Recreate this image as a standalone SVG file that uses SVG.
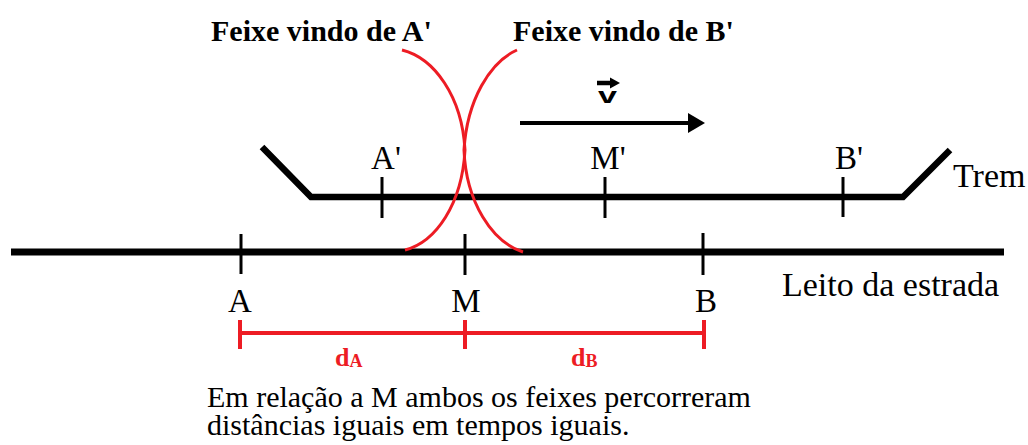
<svg xmlns="http://www.w3.org/2000/svg" width="1028" height="445" viewBox="0 0 1028 445">
<defs>
<style>
.serif{font-family:"Liberation Serif","Times New Roman",serif;fill:#000}
.lbl{font-size:33px;text-anchor:middle}
.big{font-size:34px}
.title{font-size:30px;font-weight:bold}
.red{fill:#ed1c24;font-family:"Liberation Serif","Times New Roman",serif;font-weight:bold}
.blk{stroke:#000;fill:none}
.rline{stroke:#ed1c24;fill:none}
</style>
</defs>
<rect width="1028" height="445" fill="#fff"/>

<g id="road">
<line class="blk" x1="11" y1="252" x2="1004" y2="252" stroke-width="7"/>
<line class="blk" x1="241" y1="234" x2="241" y2="274" stroke-width="3"/>
<line class="blk" x1="465" y1="234" x2="465" y2="275" stroke-width="3"/>
<line class="blk" x1="703" y1="233" x2="703" y2="275" stroke-width="3"/>
<text class="serif big" x="782" y="296">Leito da estrada</text>
</g>

<g id="train">
<polyline class="blk" points="262,147 311,197 903,197 950,150" stroke-width="6.5" stroke-linejoin="miter"/>
<line class="blk" x1="382" y1="177" x2="382" y2="218" stroke-width="3"/>
<line class="blk" x1="605" y1="177" x2="605" y2="218" stroke-width="3"/>
<line class="blk" x1="843" y1="177" x2="843" y2="217" stroke-width="3"/>
<text class="serif big" x="953" y="187">Trem</text>
</g>

<g id="label-Aprime"><text class="serif lbl" x="386" y="169">A'</text></g>
<g id="label-Mprime"><text class="serif lbl" x="608" y="169">M'</text></g>
<g id="label-Bprime"><text class="serif lbl" x="849" y="169">B'</text></g>
<g id="label-A"><text class="serif lbl" x="240" y="312">A</text></g>
<g id="label-M"><text class="serif lbl" x="466" y="312">M</text></g>
<g id="label-B"><text class="serif lbl" x="706" y="312">B</text></g>

<g id="title-A"><text class="serif title" x="211" y="41">Feixe vindo de A'</text></g>
<g id="title-B"><text class="serif title" x="513" y="41">Feixe vindo de B'</text></g>

<g id="beams">
<path class="rline" stroke-width="3" d="M402,50 C434,58 462,96 465,150 C462,204 436,242 405,250"/>
<path class="rline" stroke-width="3" d="M517,50 C490,62 467,100 464,150 C466,202 492,242 523,252"/>
</g>

<g id="velocity">
<line x1="520" y1="123" x2="690" y2="123" stroke="#000" stroke-width="4"/>
<path d="M688,113 L705,123 L688,133 Z" fill="#000"/>
<text x="598" y="103" font-family="'Liberation Sans',Arial,sans-serif" font-weight="bold" font-size="22" textLength="19" lengthAdjust="spacingAndGlyphs">v</text>
<line x1="597" y1="83" x2="611" y2="83" stroke="#000" stroke-width="4.5"/>
<path d="M610,77.5 L620,83 L610,88.5 Z" fill="#000"/>
</g>

<g id="distances">
<line class="rline" x1="240" y1="333" x2="704" y2="333" stroke-width="4"/>
<line class="rline" x1="240" y1="320" x2="240" y2="349" stroke-width="4"/>
<line class="rline" x1="465" y1="320" x2="465" y2="349" stroke-width="4"/>
<line class="rline" x1="704" y1="320" x2="704" y2="349" stroke-width="4"/>
<text class="red" x="335" y="366" font-size="26">d<tspan font-size="18" dy="1">A</tspan></text>
<text class="red" x="571" y="366" font-size="26">d<tspan font-size="18" dy="1">B</tspan></text>
</g>

<g id="caption">
<text class="serif" font-size="30"><tspan x="207" y="407">Em relação a M ambos os feixes percorreram</tspan><tspan x="207" y="435">distâncias iguais em tempos iguais.</tspan></text>
</g>
</svg>
